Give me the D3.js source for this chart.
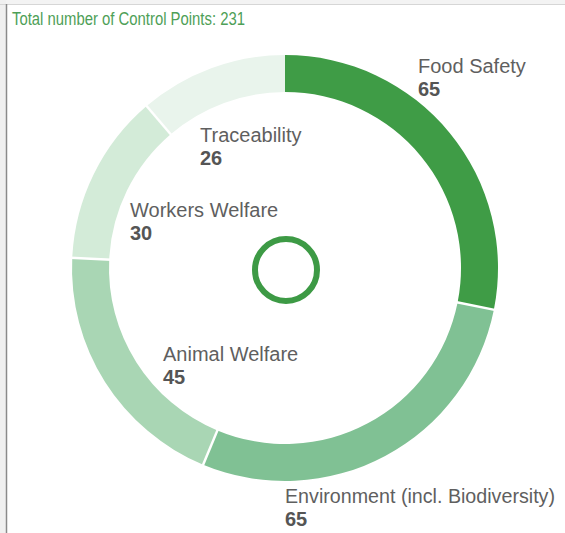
<!DOCTYPE html>
<html>
<head>
<meta charset="utf-8">
<script src="https://cdn.jsdelivr.net/npm/d3@7"></script>
<style>
  html, body { margin: 0; padding: 0; background: #fff; }
  svg { display: block; }
</style>
</head>
<body>
<svg id="chart" width="565" height="533"></svg>
<script>
const categories = ["Food Safety", "Environment (incl. Biodiversity)", "Animal Welfare", "Workers Welfare", "Traceability"];
const values = [65, 65, 45, 30, 26];
const colors = ["#3f9c46", "#80c194", "#a9d6b4", "#d3ebd8", "#e9f4ec"];
const titleText = "Total number of Control Points: 231";
// label anchor positions (top-left of label block)
const labelX = [418, 285, 163, 130, 200];
const labelY = [73, 503, 361, 217, 142];

const svg = d3.select("#chart");
const W = 565, H = 533;

// frame
svg.append("rect").attr("x", 0).attr("y", 0).attr("width", W).attr("height", 4).attr("fill", "#f3f3f3");
svg.append("rect").attr("x", 0).attr("y", 0).attr("width", 6).attr("height", H).attr("fill", "#f0f0f0");
svg.append("line").attr("x1", 0).attr("x2", W).attr("y1", 4.5).attr("y2", 4.5).attr("stroke", "#d6d6d6").attr("stroke-width", 1);
svg.append("line").attr("x1", 6.5).attr("x2", 6.5).attr("y1", 4).attr("y2", H).attr("stroke", "#8a8a8a").attr("stroke-width", 1.5);

// title
svg.append("text")
  .attr("x", 12).attr("y", 25)
  .attr("font-family", "Liberation Sans, Arial, sans-serif")
  .attr("font-size", 17.5)
  .attr("textLength", 233).attr("lengthAdjust", "spacingAndGlyphs")
  .attr("fill", "#4ea057")
  .text(titleText);

const cx = 285, cy = 268, R = 213, r = 176;
const g = svg.append("g").attr("transform", `translate(${cx},${cy})`);

const pie = d3.pie().value(d => d).sort(null);
const arcs = pie(values);
const arc = d3.arc().innerRadius(r).outerRadius(R);

g.selectAll("path.slice").data(arcs).join("path")
  .attr("class", "slice")
  .attr("d", arc)
  .attr("fill", (d, i) => colors[i]);

// white separators between slices (except the top boundary)
g.selectAll("line.sep").data(arcs.slice(1)).join("line")
  .attr("class", "sep")
  .attr("x1", d => Math.sin(d.startAngle) * (r - 2))
  .attr("y1", d => -Math.cos(d.startAngle) * (r - 2))
  .attr("x2", d => Math.sin(d.startAngle) * (R + 2))
  .attr("y2", d => -Math.cos(d.startAngle) * (R + 2))
  .attr("stroke", "#fff").attr("stroke-width", 2.5);

// centre ring
svg.append("circle").attr("cx", cx + 1).attr("cy", cy + 2).attr("r", 31)
  .attr("fill", "none").attr("stroke", "#3d9a45").attr("stroke-width", 6);

// labels
const lab = svg.selectAll("g.lab").data(categories).join("g").attr("class", "lab")
  .attr("transform", (d, i) => `translate(${labelX[i]},${labelY[i]})`);
lab.append("text")
  .attr("font-family", "Liberation Sans, Arial, sans-serif")
  .attr("font-size", 20).attr("fill", "#5f5f5f")
  .attr("textLength", (d, i) => i === 1 ? 270 : null)
  .attr("lengthAdjust", "spacingAndGlyphs")
  .text(d => d);
lab.append("text")
  .attr("y", 23)
  .attr("font-family", "Liberation Sans, Arial, sans-serif")
  .attr("font-size", 20).attr("font-weight", "bold").attr("fill", "#555")
  .text((d, i) => values[i]);
</script>
</body>
</html>
